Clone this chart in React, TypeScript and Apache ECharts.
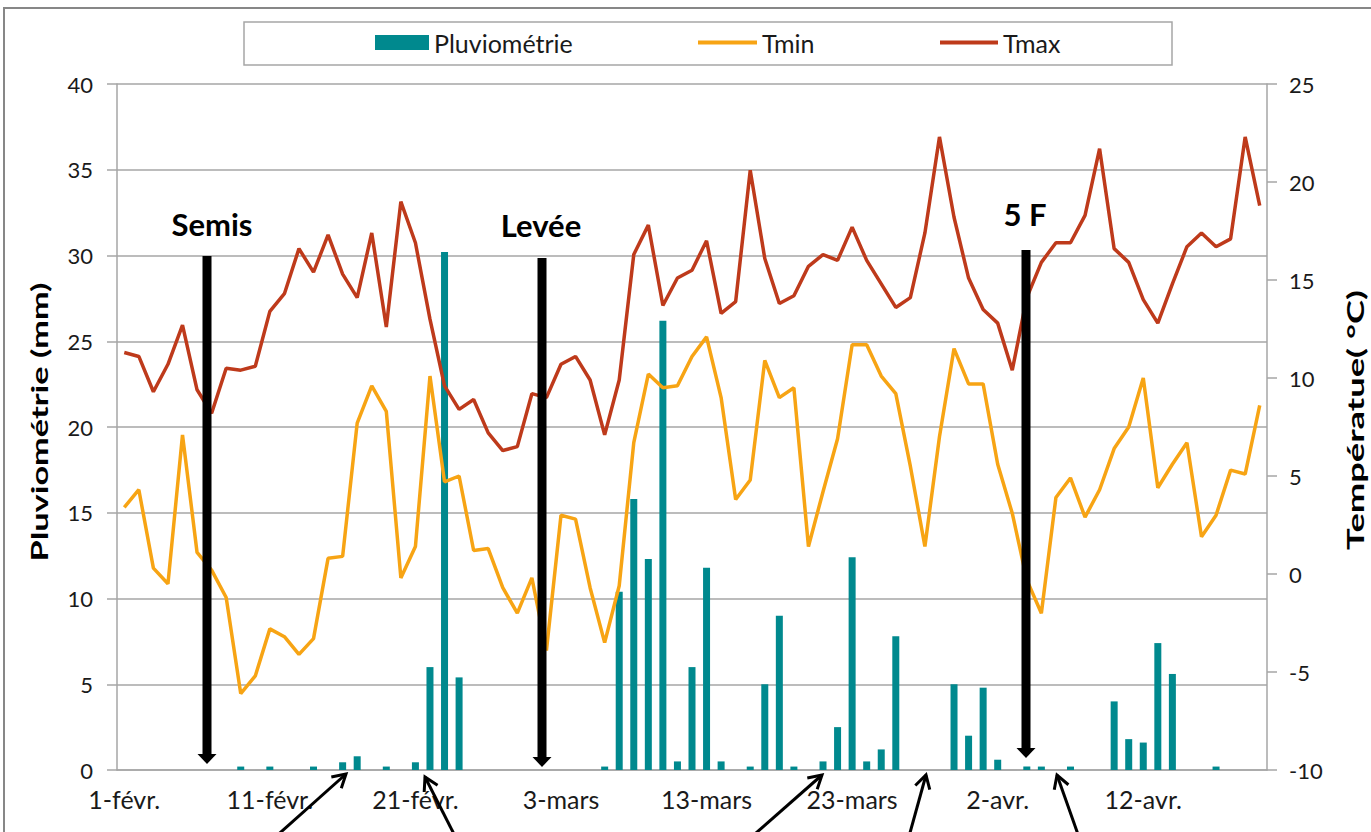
import { useEffect, useRef } from 'react';
import * as echarts from 'echarts';

// ---- categories (daily, 1 Feb -> 20 Apr) ----
const MONTHS: [string, number][] = [['févr.', 28], ['mars', 31], ['avr.', 20]];
const CATEGORIES: string[] = [];
MONTHS.forEach(([m, n]) => {
  for (let d = 1; d <= n; d++) CATEGORIES.push(`${d}-${m}`);
});

// ---- series values ----
const RAIN = [
  0, 0, 0, 0, 0, 0, 0, 0, 0.2, 0,
  0.2, 0, 0, 0.2, 0, 0.45, 0.8, 0, 0.2, 0,
  0.45, 6.0, 30.2, 5.4, 0, 0, 0, 0, 0, 0,
  0, 0, 0, 0.2, 10.4, 15.8, 12.3, 26.2, 0.5, 6.0,
  11.8, 0.5, 0, 0.2, 5.0, 9.0, 0.2, 0, 0.5, 2.5,
  12.4, 0.5, 1.2, 7.8, 0, 0, 0, 5.0, 2.0, 4.8,
  0.6, 0, 0.2, 0.2, 0, 0.2, 0, 0, 4.0, 1.8,
  1.6, 7.4, 5.6, 0, 0, 0.2, 0, 0, 0,
];

const TMIN = [
  3.4, 4.3, 0.3, -0.5, 7.1, 1.1, 0.2, -1.2, -6.1, -5.2,
  -2.8, -3.2, -4.1, -3.3, 0.8, 0.9, 7.7, 9.6, 8.3, -0.2,
  1.4, 10.1, 4.7, 5.0, 1.2, 1.3, -0.7, -2.0, -0.2, -3.9,
  3.0, 2.8, -0.7, -3.5, -0.6, 6.7, 10.2, 9.5, 9.6, 11.1,
  12.1, 9.0, 3.8, 4.8, 10.9, 9.0, 9.5, 1.4, 4.2, 6.9,
  11.7, 11.7, 10.1, 9.2, 5.5, 1.4, 7.0, 11.5, 9.7, 9.7,
  5.6, 3.1, -0.3, -2.0, 3.9, 4.9, 2.9, 4.3, 6.4, 7.5,
  10.0, 4.4, 5.6, 6.7, 1.9, 3.0, 5.3, 5.1, 8.6,
];

const TMAX = [
  11.3, 11.1, 9.3, 10.7, 12.7, 9.4, 8.2, 10.5, 10.4, 10.6,
  13.4, 14.3, 16.6, 15.4, 17.3, 15.3, 14.1, 17.4, 12.6, 19.0,
  16.9, 13.0, 9.6, 8.4, 8.9, 7.2, 6.3, 6.5, 9.2, 9.0,
  10.7, 11.1, 9.9, 7.1, 9.9, 16.3, 17.8, 13.7, 15.1, 15.5,
  17.0, 13.3, 13.9, 20.6, 16.1, 13.8, 14.2, 15.7, 16.3, 16.0,
  17.7, 16.0, 14.8, 13.6, 14.1, 17.4, 22.3, 18.2, 15.1, 13.5,
  12.8, 10.4, 14.1, 15.9, 16.9, 16.9, 18.3, 21.7, 16.6, 15.9,
  14.0, 12.8, 14.8, 16.7, 17.4, 16.7, 17.1, 22.3, 18.8,
];

// ---- axis ranges & titles ----
const RAIN_AXIS = { min: 0, max: 40, step: 5 };
const TEMP_AXIS = { min: -10, max: 25, step: 5 };
const RAIN_TITLE = 'Pluviométrie (mm)';
const TEMP_TITLE = 'Températue( °C)';

// ---- annotations ----
const STAGES = [
  { label: 'Semis', x: 207, top: 256, tip: 764, lx: 212, ly: 224 },
  { label: 'Levée', x: 542, top: 258, tip: 767, lx: 541, ly: 225 },
  { label: '5 F', x: 1026, top: 250, tip: 758, lx: 1025, ly: 214 },
];
const POINTERS: { from: [number, number]; to: [number, number] }[] = [
  { from: [272, 840], to: [346, 774] },
  { from: [457, 840], to: [425, 777] },
  { from: [748, 840], to: [822, 775] },
  { from: [908, 840], to: [926, 775] },
  { from: [1080, 840], to: [1057, 775] },
];

const FONT = 'Lato, "Noto Sans", sans-serif';
const GRID_GRAY = '#a6a6a6';
const C_RAIN = '#00898e';
const C_TMIN = '#f7a414';
const C_TMAX = '#be3a1b';

function chevron(from: [number, number], to: [number, number]) {
  const dx = from[0] - to[0];
  const dy = from[1] - to[1];
  const len = Math.hypot(dx, dy);
  const ux = dx / len;
  const uy = dy / len;
  const a = (30 * Math.PI) / 180;
  const L = 15;
  const r = (ang: number): [number, number] => [
    to[0] + L * (ux * Math.cos(ang) - uy * Math.sin(ang)),
    to[1] + L * (ux * Math.sin(ang) + uy * Math.cos(ang)),
  ];
  return [r(a), to, r(-a)];
}

function textWidth(text: string, font: string) {
  const ctx = document.createElement('canvas').getContext('2d');
  if (!ctx) return text.length * 10;
  ctx.font = font;
  return ctx.measureText(text).width;
}

export default function App() {
  const ref = useRef<HTMLDivElement>(null);
  useEffect(() => {
    if (!ref.current) return;
    const chart = echarts.init(ref.current, undefined, { renderer: 'svg' });

    const titleFont = `bold 22px ${FONT}`;
    const graphics: any[] = [
      {
        type: 'rect',
        shape: { x: 4, y: 8, width: 1400, height: 900 },
        style: { fill: 'none', stroke: '#878787', lineWidth: 2 },
        z: 1,
      },
      {
        type: 'rect',
        shape: { x: 244, y: 22, width: 928, height: 43 },
        style: { fill: '#fff', stroke: '#a6a6a6', lineWidth: 1.5 },
        z: 1,
      },
      {
        type: 'text',
        x: 40,
        y: 422,
        rotation: Math.PI / 2,
        scaleX: 279 / textWidth(RAIN_TITLE, titleFont),
        style: {
          text: RAIN_TITLE,
          fontSize: 22,
          fontWeight: 'bold',
          fontFamily: FONT,
          fill: '#000',
          align: 'center',
          verticalAlign: 'middle',
        },
        z: 50,
      },
      {
        type: 'text',
        x: 1355,
        y: 420,
        rotation: Math.PI / 2,
        scaleX: 260 / textWidth(TEMP_TITLE, titleFont),
        style: {
          text: TEMP_TITLE,
          fontSize: 22,
          fontWeight: 'bold',
          fontFamily: FONT,
          fill: '#000',
          align: 'center',
          verticalAlign: 'middle',
        },
        z: 50,
      },
    ];
    STAGES.forEach((s) => {
      graphics.push({
        type: 'rect',
        shape: { x: s.x - 4.5, y: s.top, width: 9, height: s.tip - s.top - 8 },
        style: { fill: '#000' },
        z: 100,
      });
      graphics.push({
        type: 'polygon',
        shape: { points: [[s.x - 9.5, s.tip - 10], [s.x + 9.5, s.tip - 10], [s.x, s.tip]] },
        style: { fill: '#000' },
        z: 100,
      });
      graphics.push({
        type: 'text',
        x: s.lx,
        y: s.ly,
        style: {
          text: s.label,
          fontSize: 31,
          fontWeight: 'bold',
          fontFamily: FONT,
          fill: '#000',
          align: 'center',
          verticalAlign: 'middle',
        },
        z: 100,
      });
    });
    POINTERS.forEach((p) => {
      graphics.push({
        type: 'line',
        shape: { x1: p.from[0], y1: p.from[1], x2: p.to[0], y2: p.to[1] },
        style: { stroke: '#000', lineWidth: 3 },
        z: 100,
      });
      graphics.push({
        type: 'polyline',
        shape: { points: chevron(p.from, p.to) },
        style: { stroke: '#000', lineWidth: 3, fill: 'none' },
        z: 100,
      });
    });

    const legendText = {
      fontSize: 25,
      fontFamily: FONT,
      color: '#1a1a1a',
      padding: [0, 0, 10, 0],
    };
    const legendCommon = { top: 25, textStyle: legendText, z: 5, itemGap: 0 };

    chart.setOption({
      animation: false,
      backgroundColor: '#fff',
      grid: { left: 117, right: 104, top: 84, bottom: 62, containLabel: false },
      legend: [
        {
          ...legendCommon,
          data: [{ name: 'Pluviométrie', icon: 'rect' }],
          left: 370,
          itemWidth: 54,
          itemHeight: 15,
        },
        {
          ...legendCommon,
          data: [{ name: 'Tmin', icon: 'rect' }],
          left: 693,
          itemWidth: 59,
          itemHeight: 4,
        },
        {
          ...legendCommon,
          data: [{ name: 'Tmax', icon: 'rect' }],
          left: 935,
          itemWidth: 58,
          itemHeight: 4,
        },
      ],
      xAxis: {
        type: 'category',
        data: CATEGORIES,
        boundaryGap: true,
        axisLine: { lineStyle: { color: GRID_GRAY, width: 1.5 } },
        axisTick: { interval: 9, length: 6, lineStyle: { color: GRID_GRAY, width: 1.5 } },
        axisLabel: { interval: 9, fontSize: 25, fontFamily: FONT, color: '#1a1a1a', margin: 16 },
        splitLine: { show: false },
      },
      yAxis: [
        {
          type: 'value',
          min: RAIN_AXIS.min,
          max: RAIN_AXIS.max,
          interval: RAIN_AXIS.step,
          position: 'left',
          axisLine: { show: true, lineStyle: { color: GRID_GRAY, width: 1.5 } },
          axisTick: { show: true, length: 10, lineStyle: { color: GRID_GRAY, width: 1.5 } },
          splitLine: { show: true, lineStyle: { color: GRID_GRAY, width: 1.5 } },
          axisLabel: { fontSize: 22, fontFamily: FONT, color: '#1a1a1a', margin: 24 },
        },
        {
          type: 'value',
          min: TEMP_AXIS.min,
          max: TEMP_AXIS.max,
          interval: TEMP_AXIS.step,
          position: 'right',
          axisLine: { show: true, lineStyle: { color: GRID_GRAY, width: 1.5 } },
          axisTick: { show: true, length: 10, lineStyle: { color: GRID_GRAY, width: 1.5 } },
          splitLine: { show: false },
          axisLabel: { fontSize: 22, fontFamily: FONT, color: '#1a1a1a', margin: 22 },
        },
      ],
      series: [
        {
          name: 'Pluviométrie',
          type: 'bar',
          yAxisIndex: 0,
          data: RAIN,
          barWidth: 7,
          itemStyle: { color: C_RAIN },
          z: 2,
        },
        {
          name: 'Tmin',
          type: 'line',
          yAxisIndex: 1,
          data: TMIN,
          symbol: 'none',
          lineStyle: { color: C_TMIN, width: 3.5 },
          itemStyle: { color: C_TMIN },
          z: 3,
        },
        {
          name: 'Tmax',
          type: 'line',
          yAxisIndex: 1,
          data: TMAX,
          symbol: 'none',
          lineStyle: { color: C_TMAX, width: 3.5 },
          itemStyle: { color: C_TMAX },
          z: 4,
        },
      ],
      graphic: graphics,
    });
    return () => chart.dispose();
  }, []);

  return (
    <div
      ref={ref}
      style={{ position: 'fixed', left: 0, top: 0, width: 1371, height: 832, background: '#fff' }}
    />
  );
}
